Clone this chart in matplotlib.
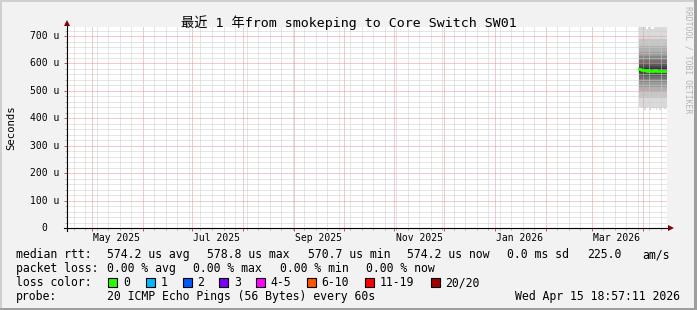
import datetime as dt
import numpy as np
import matplotlib
matplotlib.use('Agg')
import matplotlib.pyplot as plt
import matplotlib.dates as mdates
from matplotlib.patches import Rectangle
from matplotlib.ticker import MultipleLocator

W, H = 697, 310
MONO = ['DejaVu Sans Mono', 'Noto Sans CJK SC']

# graph window (1 year)
t_start = dt.datetime(2025, 4, 15, 18, 57, 11)
t_end = dt.datetime(2026, 4, 15, 18, 57, 11)

# daily samples, data only exists for the last ~2.5 weeks
sample_days = ['2026-03-30', '2026-03-31', '2026-04-01', '2026-04-02', '2026-04-03',
               '2026-04-04', '2026-04-05', '2026-04-06', '2026-04-07', '2026-04-08',
               '2026-04-09', '2026-04-10', '2026-04-11', '2026-04-12', '2026-04-13',
               '2026-04-14', '2026-04-15']

# median rtt in us
median_rtt = [579, 576, 575, 575, 574, 575, 574, 572, 573, 575, 574, 571, 573, 574, 572, 574, 574]

# smoke: outer edges per day, inner ping levels (sorted) in us
smoke_top = [733, 733, 733, 733, 724, 733, 733, 726, 726, 733, 733, 733, 733, 730, 733, 733, 733]
smoke_bottom = [440, 436, 438, 432, 436, 440, 430, 436, 434, 438, 432, 436, 430, 436, 438, 434, 436]
ping_low = [475, 498, 516, 531, 543, 553, 562, 569]
ping_high = [582, 590, 600, 612, 626, 642, 662, 690]

y_ticks = [0, 100, 200, 300, 400, 500, 600, 700]
x_label_months = [dt.datetime(2025, 5, 1), dt.datetime(2025, 7, 1), dt.datetime(2025, 9, 1),
                  dt.datetime(2025, 11, 1), dt.datetime(2026, 1, 1), dt.datetime(2026, 3, 1)]

loss_labels = ['0', '1', '2', '3', '4-5', '6-10', '11-19', '20/20']
loss_colors = ['#26ff00', '#00b8ff', '#0059ff', '#7e00ff', '#ff00ff', '#ff5500', '#ff0000', '#a10000']

fig = plt.figure(figsize=(W / 100, H / 100), dpi=100, facecolor='#f2f2f2')
ax = fig.add_axes([67 / W, 1 - 228 / H, 600 / W, 201 / H])
ax.set_facecolor('white')
for s in ax.spines.values():
    s.set_visible(False)

# step data
x = [dt.datetime.strptime(d, '%Y-%m-%d') for d in sample_days] + [t_end]
def ext(v):
    v = np.asarray(v, dtype=float)
    return np.append(v, v[-1])

n = len(sample_days)
levels = [ext(smoke_bottom)] + [ext([v] * n) for v in ping_low] + \
         [ext([v] * n) for v in ping_high] + [ext(smoke_top)]

half = 9
for k in range(9):
    g = int(190 / half * (half - (k + 1))) + 50
    col = '#%02x%02x%02x' % (g, g, g)
    ax.fill_between(x, levels[k], levels[17 - k], step='post', color=col, lw=0, zorder=1)

ax.step(x, ext(median_rtt), where='post', color=loss_colors[0], lw=2, zorder=4)

ax.set_xlim(t_start, t_end)
ax.set_ylim(0, 733)
ax.xaxis.set_major_locator(mdates.MonthLocator())
ax.xaxis.set_minor_locator(mdates.WeekdayLocator(byweekday=mdates.SU))
ax.yaxis.set_major_locator(MultipleLocator(100))
ax.yaxis.set_minor_locator(MultipleLocator(20))
ax.grid(which='minor', color='#cdcdcd', lw=0.72, ls=(0, (1, 1)))
ax.grid(which='major', color='#ec9494', lw=0.72, ls=(0, (1, 1)))
ax.set_axisbelow(False)
ax.tick_params(which='both', labelleft=False, labelbottom=False, direction='out')
ax.tick_params(which='major', length=2.2, width=0.72, color='#de5050')
ax.tick_params(which='minor', length=1.5, width=0.72, color='#b0b0b0')

# axis lines + arrows
ax.plot([-3 / 600, 1 + 2 / 600], [0, 0], transform=ax.transAxes, color='black',
        lw=0.8, clip_on=False, zorder=5)
ax.plot([0, 0], [-3 / 201, 1 + 1 / 201], transform=ax.transAxes, color='black',
        lw=0.8, clip_on=False, zorder=5)
ax.plot([1 + 4 / 600], [0], marker='>', ms=4, color='#7f0000', mew=0,
        transform=ax.transAxes, clip_on=False, zorder=5)
ax.plot([0], [1 + 4.5 / 201], marker='^', ms=4, color='#7f0000', mew=0,
        transform=ax.transAxes, clip_on=False, zorder=5)

# tick labels
for v in y_ticks:
    lab = f'{v} u' if v else '0'
    xa = (59 - 67) / 600 if v else (47 - 67) / 600
    ax.text(xa, v, lab, transform=ax.get_yaxis_transform(), ha='right', va='center',
            fontsize=7, family=MONO)
for m in x_label_months:
    ax.text(m + dt.timedelta(days=15), (228 - 241) / 201, m.strftime('%b %Y'),
            transform=ax.get_xaxis_transform(), ha='center', va='baseline',
            fontsize=7, family=MONO)


def ptext(xp, yp, s, size=8.3, **kw):
    fig.text(xp / W, 1 - yp / H, s, fontsize=size, family=MONO, va='baseline', **kw)


ptext(348.5, 26.5, '最近 1 年from smokeping to Core Switch SW01', size=9.5, ha='center')
fig.text(11 / W, 1 - 127.5 / H, 'Seconds', rotation=90, ha='center', va='center',
         fontsize=7.7, family=MONO)
fig.text(688 / W, 1 - 60 / H, 'RRDTOOL / TOBI OETIKER', rotation=270, ha='center',
         va='center', fontsize=5.9, family=MONO, color='#b4b4b4')

# legend
ptext(16, 258, 'median rtt:')
for xp, s in [(107.3, '574.2 us avg'), (207.3, '578.8 us max'), (308.4, '570.7 us min'),
              (407.3, '574.2 us now'), (507.3, '0.0 ms sd'), (586.7, '225.0'), (642.3, 'am/s')]:
    ptext(xp, 258, s)
ptext(16, 272, 'packet loss:')
for xp, s in [(107.3, '0.00 % avg'), (193.5, '0.00 % max'), (279.6, '0.00 % min'),
              (365.8, '0.00 % now')]:
    ptext(xp, 272, s)
ptext(16, 286, 'loss color:')
box_x = [108.3, 145.7, 182.7, 219.3, 256, 306.7, 365, 430.7]
for bx, lab, c in zip(box_x, loss_labels, loss_colors):
    fig.add_artist(Rectangle((bx / W, 1 - 286.5 / H), 9 / W, 9 / H, transform=fig.transFigure,
                             facecolor=c, edgecolor='black', lw=0.8))
    ptext(bx + 14.5, 286, lab)
ptext(16, 300, 'probe:')
ptext(107.3, 300, '20 ICMP Echo Pings (56 Bytes) every 60s')
ptext(680, 300, 'Wed Apr 15 18:57:11 2026', ha='right')

# 3d frame
fig.add_artist(Rectangle((0, 1 - 2 / H), 1, 2 / H, transform=fig.transFigure, color='#cfcfcf', lw=0))
fig.add_artist(Rectangle((0, 0), 2 / W, 1, transform=fig.transFigure, color='#cfcfcf', lw=0))
fig.add_artist(Rectangle((0, 0), 1, 2 / H, transform=fig.transFigure, color='#9e9e9e', lw=0))
fig.add_artist(Rectangle((1 - 3 / W, 0), 3 / W, 1, transform=fig.transFigure, color='#9e9e9e', lw=0))

fig.savefig('out.png', dpi=100, facecolor=fig.get_facecolor())
